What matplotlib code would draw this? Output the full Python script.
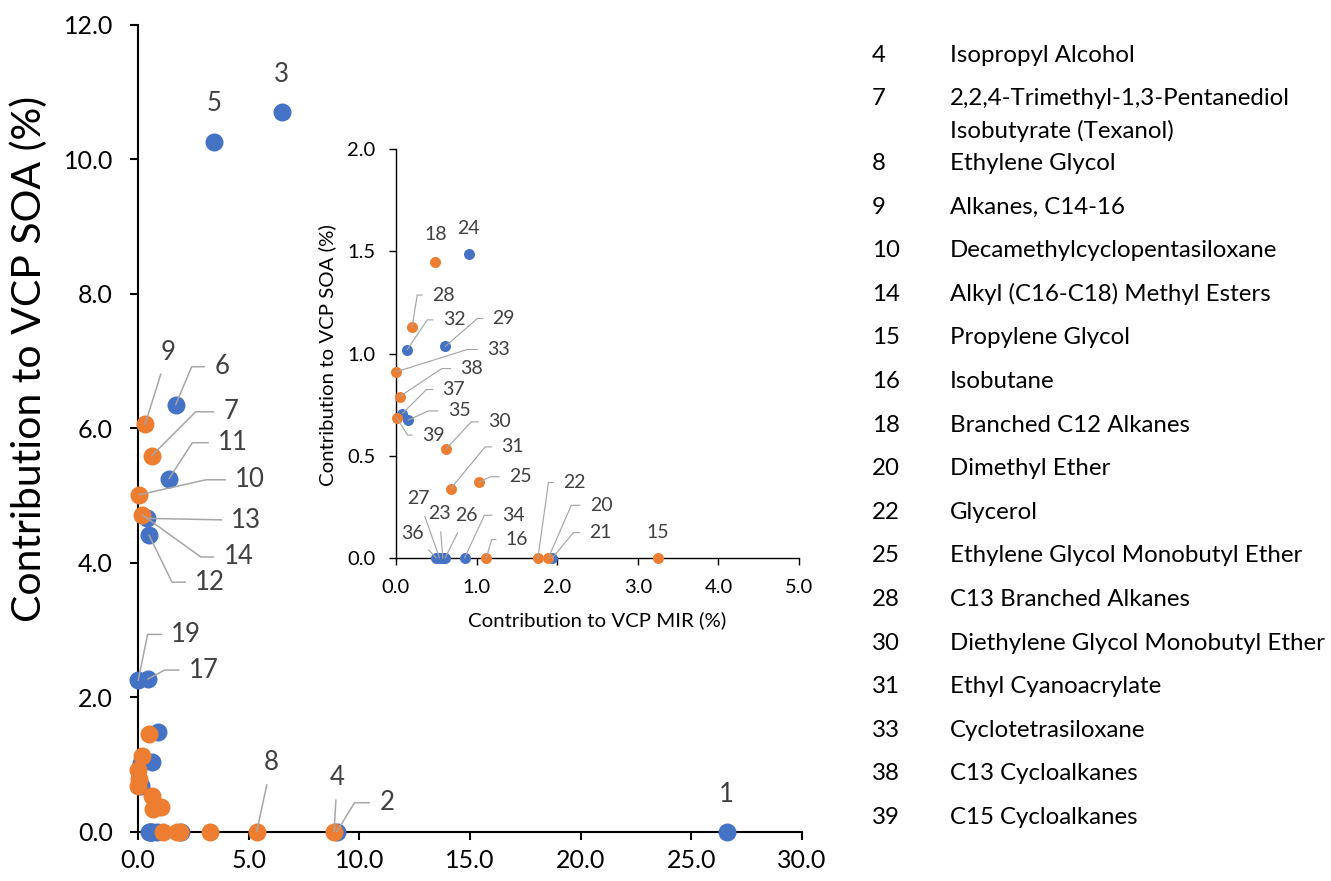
import matplotlib
matplotlib.use("Agg")
import matplotlib.pyplot as plt
import numpy as np

plt.rcParams['font.family'] = ['Lato', 'DejaVu Sans']

# ---------------- data ----------------
ids = list(range(1, 40))
mir = [26.6, 8.98, 6.49, 8.86, 3.45, 1.70, 0.62, 5.36, 0.32, 0.05,
       1.40, 0.50, 0.42, 0.20, 3.25, 1.12, 0.44, 0.48, 0.01, 1.89,
       1.94, 1.76, 0.58, 0.90, 1.03, 0.61, 0.54, 0.20, 0.61, 0.62,
       0.68, 0.14, 0.00, 0.85, 0.15, 0.50, 0.08, 0.045, 0.01]
soa = [0.0, 0.0, 10.71, 0.0, 10.25, 6.35, 5.59, 0.0, 6.06, 5.01,
       5.25, 4.41, 4.66, 4.71, 0.0, 0.0, 2.27, 1.45, 2.25, 0.0,
       0.0, 0.0, 0.0, 1.49, 0.37, 0.0, 0.0, 1.13, 1.035, 0.534,
       0.34, 1.02, 0.911, 0.0, 0.674, 0.0, 0.707, 0.79, 0.686]

legend_ids = [4, 7, 8, 9, 10, 14, 15, 16, 18, 20, 22, 25, 28, 30, 31, 33, 38, 39]
legend_names = ["Isopropyl Alcohol",
                "2,2,4-Trimethyl-1,3-Pentanediol\nIsobutyrate (Texanol)",
                "Ethylene Glycol", "Alkanes, C14-16",
                "Decamethylcyclopentasiloxane",
                "Alkyl (C16-C18) Methyl Esters", "Propylene Glycol",
                "Isobutane", "Branched C12 Alkanes", "Dimethyl Ether",
                "Glycerol", "Ethylene Glycol Monobutyl Ether",
                "C13 Branched Alkanes", "Diethylene Glycol Monobutyl Ether",
                "Ethyl Cyanoacrylate", "Cyclotetrasiloxane",
                "C13 Cycloalkanes", "C15 Cycloalkanes"]

main_xticks = [0, 5, 10, 15, 20, 25, 30]
main_yticks = [0, 2, 4, 6, 8, 10, 12]
inset_xticks = [0, 1, 2, 3, 4, 5]
inset_yticks = [0, 0.5, 1.0, 1.5, 2.0]

# ---------------- styles / layout ----------------
BLUE = '#4472C4'
ORANGE = '#ED7D31'
LEAD = '#A6A6A6'
TXT = '#404040'
W, H, DPI = 1331, 881, 100

# label layout: id -> (dx px, dy px, leader) ; leader: 'none', None (straight), or angle
main_lab = {1: (0, 37, 'none'), 2: (50, 29, 58.5), 3: (0, 37, 'none'),
            4: (3, 54, None), 5: (0, 39, 'none'), 6: (46, 38, 67),
            7: (79, 44, 45), 8: (15, 69, None), 9: (22.6, 72, None),
            10: (111, 15, 12.7), 11: (64, 36, 57), 12: (61, -47, -64),
            13: (99, -2, None), 14: (96, -42, -35.7), 17: (56, 9, 28),
            19: (48, 46, 78.5)}
inset_lab = {15: (0, 25, 'none'), 16: (30.7, 18.4, 73.6), 18: (0.7, 27, 'none'),
             20: (52.7, 52.7, 66.5), 21: (48, 25.4, 50.4), 22: (36.3, 75.4, 82),
             23: (-3.4, 44.4, None), 24: (0, 25.4, 'none'), 25: (41.3, 5.6, 27),
             26: (21, 42.7, None), 27: (-21, 59.4, None), 28: (31, 32, 81),
             29: (58.7, 28, 41), 30: (53.6, 27, 46.8), 31: (61.7, 41.6, 50.5),
             32: (46.7, 29.7, 56), 33: (102.4, 22.4, 17.4), 34: (48.6, 42.7, 65),
             35: (51, 9.3, 24.8), 36: (-23.4, 24.4, None), 37: (51.3, 24, 45),
             38: (72, 28, 33.6), 39: (36.3, -17.3, -58)}

mir = np.array(mir)
soa = np.array(soa)
is_orange = np.array([i in legend_ids for i in ids])

fig = plt.figure(figsize=(W / DPI, H / DPI), dpi=DPI)


def px_axes(l, r, top, bottom):
    return fig.add_axes([l / W, 1 - bottom / H, (r - l) / W, (bottom - top) / H])


def style_axes(ax, lw, tl, fs, xpad, ypad):
    for s in ['top', 'right']:
        ax.spines[s].set_visible(False)
    for s in ['left', 'bottom']:
        ax.spines[s].set_linewidth(lw)
        ax.spines[s].set_color('black')
    ax.tick_params(direction='out', length=tl, width=lw, labelsize=fs,
                   colors='black')
    ax.tick_params(axis='x', pad=xpad)
    ax.tick_params(axis='y', pad=ypad)
    ax.patch.set_alpha(0)


def add_labels(ax, layout, fs, lw):
    for i, (dx, dy, lead) in layout.items():
        k = ids.index(i)
        kw = dict(xytext=(dx, dy), textcoords='offset pixels', ha='center',
                  va='center', fontsize=fs, color=TXT, zorder=6,
                  annotation_clip=False)
        if lead != 'none':
            cs = 'arc3' if lead is None else f'angle,angleA=0,angleB={lead},rad=0'
            kw['arrowprops'] = dict(arrowstyle='-', color=LEAD, lw=lw,
                                    shrinkA=5, shrinkB=0, connectionstyle=cs)
        ax.annotate(str(i), (mir[k], soa[k]), **kw)


# ---------------- main axes ----------------
ax = px_axes(138, 802, 24.8, 831.7)
style_axes(ax, 1.5, 6, 18, 6.5, 12)
ax.set_xlim(0, 30)
ax.set_ylim(0, 12)
ax.set_xticks(main_xticks)
ax.set_yticks(main_yticks)
ax.xaxis.set_major_formatter(matplotlib.ticker.FormatStrFormatter('%.1f'))
ax.yaxis.set_major_formatter(matplotlib.ticker.FormatStrFormatter('%.1f'))
ax.scatter(mir[~is_orange], soa[~is_orange], s=168, color=BLUE, lw=0,
           clip_on=False, zorder=3)
ax.scatter(mir[is_orange], soa[is_orange], s=168, color=ORANGE, lw=0,
           clip_on=False, zorder=4)
add_labels(ax, main_lab, 18.5, 1.1)
fig.text(29 / W, 1 - 359 / H, 'Contribution to VCP SOA (%)', rotation=90,
         ha='center', va='center', fontsize=29.5, color='black')

# ---------------- inset axes ----------------
ia = px_axes(396, 799, 149.3, 558)
style_axes(ia, 1.0, 5, 14.5, 10, 10)
ia.set_xlim(0, 5)
ia.set_ylim(0, 2)
ia.set_xticks(inset_xticks)
ia.set_yticks(inset_yticks)
ia.xaxis.set_major_formatter(matplotlib.ticker.FormatStrFormatter('%.1f'))
ia.yaxis.set_major_formatter(matplotlib.ticker.FormatStrFormatter('%.1f'))
inside = (mir <= 5) & (soa <= 2)
m_b = inside & ~is_orange
m_o = inside & is_orange
ia.scatter(mir[m_b], soa[m_b], s=63, color=BLUE, lw=0, clip_on=False, zorder=3)
ia.scatter(mir[m_o], soa[m_o], s=63, color=ORANGE, lw=0, clip_on=False, zorder=4)
add_labels(ia, inset_lab, 14, 0.85)
fig.text(597.5 / W, 1 - 620 / H, 'Contribution to VCP MIR (%)',
         ha='center', va='center', fontsize=14.7, color='black')
fig.text(327 / W, 1 - 355 / H, 'Contribution to VCP SOA (%)', rotation=90,
         ha='center', va='center', fontsize=14.7, color='black')

# ---------------- side list ----------------
base = 61.7
for i, name in zip(legend_ids, legend_names):
    fig.text(871.7 / W, 1 - base / H, str(i), ha='left', va='baseline',
             fontsize=17.3, color='black')
    lines = name.split('\n')
    for j, ln in enumerate(lines):
        fig.text(950 / W, 1 - (base + 32.2 * j) / H, ln, ha='left',
                 va='baseline', fontsize=17.3, color='black')
    base += 43.6 + 21 * (len(lines) - 1)

fig.savefig('out.png', dpi=DPI)
